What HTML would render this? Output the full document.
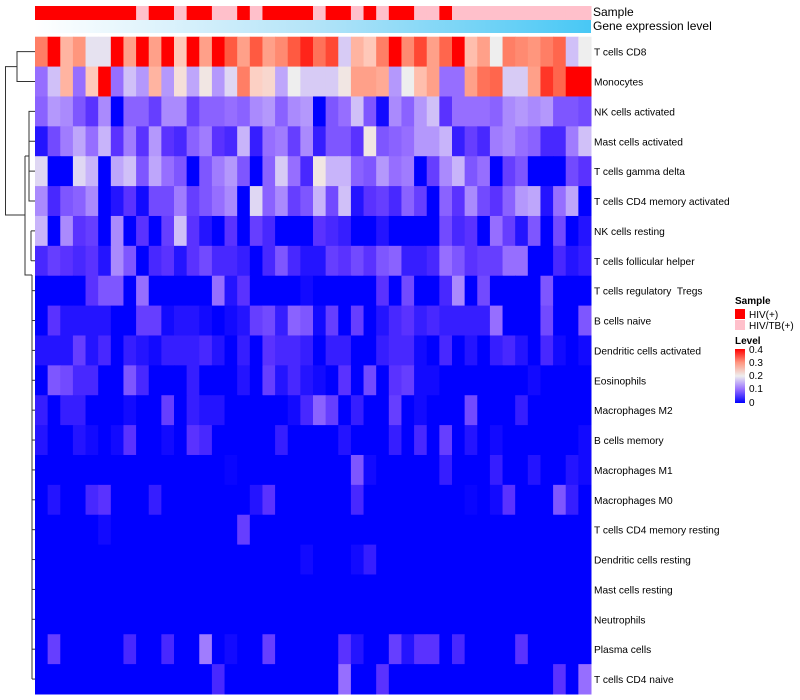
<!DOCTYPE html>
<html><head><meta charset="utf-8"><style>
body{margin:0;background:#fff;width:800px;height:700px;overflow:hidden}
svg{display:block;font-family:"Liberation Sans",sans-serif}
#labels text{white-space:pre}
</style></head><body>
<svg id="chart" width="800" height="700" viewBox="0 0 800 700" xmlns="http://www.w3.org/2000/svg">
<g id="dendro" stroke="#333" fill="none" stroke-width="1"></g>
<g id="cells"></g>
<g id="anno"></g>
<g id="labels" font-size="10.2" fill="#000"></g>
<text x="593" y="16" font-size="12">Sample</text>
<text x="593" y="30" font-size="12">Gene expression level</text>
<g font-size="10">
<text x="735" y="304" font-weight="bold">Sample</text>
<rect x="735" y="309" width="10" height="10" fill="#FF0000"/>
<text x="749" y="318">HIV(+)</text>
<rect x="735" y="320" width="10" height="10" fill="#FFC0CB"/>
<text x="749" y="329">HIV/TB(+)</text>
<text x="735" y="344" font-weight="bold">Level</text>
<defs><linearGradient id="lg" x1="0" y1="0" x2="0" y2="1">
<stop offset="0" stop-color="#FF0000"/><stop offset="0.25" stop-color="#FF9680"/><stop offset="0.5" stop-color="#EEEEEE"/><stop offset="0.75" stop-color="#966EFF"/><stop offset="1" stop-color="#0000FF"/></linearGradient></defs>
<rect x="735" y="349" width="10" height="54" fill="url(#lg)"/>
<text x="749" y="353">0.4</text>
<text x="749" y="366">0.3</text>
<text x="749" y="379">0.2</text>
<text x="749" y="392">0.1</text>
<text x="749" y="406">0</text>
</g>
</svg>
<script>
const rowNames=["T cells CD8","Monocytes","NK cells activated","Mast cells activated","T cells gamma delta","T cells CD4 memory activated","NK cells resting","T cells follicular helper","T cells regulatory  Tregs","B cells naive","Dendritic cells activated","Eosinophils","Macrophages M2","B cells memory","Macrophages M1","Macrophages M0","T cells CD4 memory resting","Dendritic cells resting","Mast cells resting","Neutrophils","Plasma cells","T cells CD4 naive"];
const sampleGroups="RRRRRRRRPRRPRRPPRPRRRRPRRPRPRRPPRPPPPPPPPPPP".split("");
const z44=()=>new Array(44).fill(0);
const values=[
[0.32,0.4,0.27,0.3,0.19,0.19,0.4,0.29,0.4,0.29,0.4,0.25,0.4,0.29,0.4,0.35,0.29,0.35,0.29,0.31,0.35,0.38,0.33,0.36,0.17,0.27,0.25,0.32,0.4,0.31,0.36,0.29,0.34,0.4,0.26,0.29,0.2,0.32,0.31,0.3,0.32,0.34,0.16,0.2],
[0.1,0.16,0.27,0.1,0.25,0.4,0.1,0.16,0.13,0.27,0.13,0.22,0.14,0.21,0.13,0.18,0.32,0.24,0.23,0.14,0.2,0.17,0.17,0.17,0.21,0.29,0.29,0.28,0.13,0.2,0.26,0.29,0.1,0.1,0.29,0.33,0.34,0.17,0.17,0.29,0.37,0.34,0.4,0.4],
[0.09,0.13,0.12,0.08,0.05,0.12,0,0.09,0.09,0.06,0.12,0.12,0.06,0.09,0.09,0.1,0.09,0.12,0.13,0.09,0.12,0.13,0,0.08,0.1,0.16,0.08,0.01,0.12,0.09,0.13,0.16,0.05,0.1,0.1,0.1,0.09,0.12,0.13,0.12,0.13,0.08,0.08,0.07],
[0.02,0.07,0.11,0.14,0.1,0.15,0.05,0.11,0.05,0.13,0.05,0.04,0.09,0.11,0.05,0.04,0.15,0.03,0.1,0.11,0.06,0.12,0.03,0.08,0.08,0.05,0.21,0.08,0.09,0.1,0.13,0.13,0.15,0.03,0.06,0.04,0.11,0.12,0.1,0.09,0.04,0.04,0.11,0.16],
[0.18,0,0,0.18,0.15,0,0.14,0.16,0.08,0.14,0.1,0.08,0,0.08,0.11,0.13,0.08,0,0.09,0.17,0.1,0.04,0.21,0.15,0.15,0.09,0.08,0.13,0.1,0.11,0,0.06,0.12,0.15,0.08,0.1,0,0.06,0.08,0,0,0,0.07,0.05],
[0.12,0.04,0.08,0.09,0.12,0,0.02,0.05,0.01,0.07,0.07,0.11,0.06,0.08,0.1,0.12,0,0.18,0.09,0.12,0.06,0.08,0.15,0.07,0.16,0.02,0.05,0.06,0.04,0.09,0.06,0,0.09,0.05,0.12,0.07,0.05,0.09,0.13,0.14,0.02,0.1,0.14,0],
[0.15,0,0.12,0.05,0.06,0,0.12,0,0.05,0,0.06,0.16,0.05,0.02,0,0.05,0,0.06,0.04,0,0,0,0.05,0.04,0.03,0,0,0.02,0,0,0,0,0.07,0.04,0.05,0,0.1,0.06,0.02,0.08,0,0.07,0,0.02],
[0.04,0.06,0.05,0.04,0.05,0.02,0.12,0.08,0,0.04,0.05,0.02,0.05,0.07,0.04,0.04,0.03,0,0.04,0.08,0.04,0.02,0.02,0.06,0.05,0.07,0.05,0.08,0.09,0.03,0.03,0.04,0.1,0.08,0.05,0.06,0.06,0.1,0.1,0,0,0.04,0.02,0.03],
[0,0,0,0,0.05,0.08,0.08,0,0.1,0,0,0,0,0,0.1,0.02,0.05,0,0,0,0,0.01,0,0,0,0,0,0.05,0,0.07,0,0,0.04,0.12,0,0.07,0,0,0,0,0.08,0,0,0],
[0,0.05,0.02,0.02,0.02,0.02,0,0,0.06,0.06,0.01,0.02,0.02,0.01,0,0.01,0.02,0.06,0.07,0.03,0.09,0.08,0.01,0.06,0,0.06,0,0.02,0.04,0.05,0.03,0.04,0.03,0.03,0.03,0.03,0.1,0,0,0,0.07,0,0,0.08],
[0.02,0.02,0.02,0.06,0.02,0.04,0,0.03,0.02,0.01,0.03,0.03,0.03,0.04,0.02,0,0.03,0,0.05,0.04,0.04,0.03,0,0.03,0.03,0,0,0.03,0.04,0.04,0.01,0,0.04,0,0.02,0,0.03,0.04,0.02,0,0.04,0.01,0,0.01],
[0,0.08,0.07,0.04,0.04,0,0,0.08,0.04,0,0,0,0.03,0,0,0,0.02,0,0.06,0.02,0.04,0.02,0.01,0,0.05,0,0.07,0,0.05,0.06,0.01,0.01,0,0,0,0,0,0,0,0.01,0,0,0,0],
[0.03,0,0.03,0.03,0,0,0,0.01,0,0,0.06,0,0.03,0.02,0.02,0,0,0,0,0,0.01,0.04,0.09,0.06,0,0.03,0,0,0.06,0,0.01,0,0,0,0.07,0,0,0,0.03,0,0,0,0,0],
[0.02,0,0,0.02,0.01,0,0.01,0.05,0,0,0.01,0,0.05,0.04,0,0,0,0,0,0.03,0,0,0,0,0.02,0,0,0,0.03,0,0.04,0,0.06,0,0.02,0,0.01,0,0,0,0,0,0,0.01],
[0,0,0,0,0,0,0,0,0,0,0,0,0,0,0,0.005,0,0,0,0,0,0,0,0,0,0.08,0.01,0,0,0,0,0,0.03,0,0,0,0.03,0,0,0.02,0,0,0.02,0.01],
[0,0.02,0,0,0.04,0.05,0,0,0,0.03,0,0,0,0,0,0,0,0.02,0.05,0,0,0,0,0,0,0.04,0,0,0,0,0,0,0,0,0.005,0,0.01,0.05,0,0,0,0.08,0.03,0],
[0,0,0,0,0,0.01,0,0,0,0,0,0,0,0,0,0,0.06,0,0,0,0,0,0,0,0,0,0,0,0,0,0,0,0,0,0,0,0,0,0,0,0,0,0,0],
[0,0,0,0,0,0,0,0,0,0,0,0,0,0,0,0,0,0,0,0,0,0.01,0,0,0,0.01,0.03,0,0,0,0,0,0,0,0,0,0,0,0,0,0,0,0,0],
z44(),
z44(),
[0,0.06,0,0,0,0,0,0.04,0,0,0.04,0,0,0.11,0,0.01,0,0,0.06,0,0,0,0,0,0.05,0.02,0,0,0.06,0.02,0.05,0.05,0,0.04,0,0,0,0,0.05,0,0,0,0,0],
[0,0,0,0,0,0,0,0,0,0,0,0,0,0,0.04,0,0,0,0,0,0,0,0,0,0.1,0,0,0.05,0,0,0,0,0,0,0,0,0,0,0,0,0,0.05,0,0.1]
];
const NS="http://www.w3.org/2000/svg";
const x0=35,x1=591,y0=36.7,y1=694;
const cw=(x1-x0)/44, rh=(y1-y0)/22;
const xScale=i=>x0+i*cw, yScale=j=>y0+j*rh;
const stops=[[0,[0,0,255]],[0.05,[90,50,255]],[0.1,[150,110,255]],[0.15,[200,180,250]],[0.2,[238,238,238]],[0.25,[255,200,185]],[0.3,[255,150,125]],[0.35,[255,90,65]],[0.4,[255,0,0]]];
function col(v){v=Math.max(0,Math.min(0.4,v));for(let k=0;k<stops.length-1;k++){const[a,ca]=stops[k],[b,cb]=stops[k+1];if(v<=b){const t=(v-a)/(b-a);return`rgb(${ca.map((c,i)=>Math.round(c+(cb[i]-c)*t)).join(",")})`;}}return"rgb(255,0,0)";}
function mk(tag,attrs,parent){const e=document.createElementNS(NS,tag);for(const k in attrs)e.setAttribute(k,attrs[k]);parent.appendChild(e);return e;}
const cells=document.getElementById("cells");
values.forEach((row,j)=>row.forEach((v,i)=>{
 const r=mk("rect",{x:xScale(i),y:yScale(j),width:cw+0.5,height:rh+0.5,fill:col(v)},cells);
 
 
}));
const anno=document.getElementById("anno");
sampleGroups.forEach((g,i)=>{
 const r=mk("rect",{x:xScale(i),y:6,width:cw+0.5,height:14,fill:g==="R"?"#FF0000":"#FFC0CB"},anno);
 
 
});
const defs=mk("defs",{},anno);
const gg=mk("linearGradient",{id:"gexp",x1:"0",y1:"0",x2:"1",y2:"0"},defs);
mk("stop",{offset:"0","stop-color":"#FFFFFF"},gg);mk("stop",{offset:"0.5","stop-color":"#B4E4F8"},gg);mk("stop",{offset:"1","stop-color":"#48C8F5"},gg);
const ge=mk("rect",{x:x0,y:20,width:x1-x0,height:13,fill:"url(#gexp)"},anno);


const labels=document.getElementById("labels");
rowNames.forEach((n,j)=>{
 const t=mk("text",{x:594,y:yScale(j)+rh/2+4},labels);t.textContent=n;
 
 
});
const d=document.getElementById("dendro");
const yc=j=>yScale(j)+rh/2;
function seg(p){const e=mk("path",{d:p},d);}
seg(`M35 ${yc(0)} H17 V${yc(1)} H35`);
seg(`M17 ${(yc(0)+yc(1))/2} H5.5 V215 H25`);
seg(`M25 156 V275 H32`);
seg(`M25 156 H29 V${yc(2)} H35 M29 ${yc(2)} V${yc(5)} H35`);
seg(`M29 ${yc(3)} H35 M29 ${yc(4)} H35`);
seg(`M31 ${yc(6)} V${yc(7)} M31 ${yc(6)} H35 M31 ${yc(7)} H35`);
seg(`M32 275 V${yc(21)}`);
for(let j=8;j<22;j++)seg(`M32 ${yc(j)} H35`);
</script>
</body></html>
